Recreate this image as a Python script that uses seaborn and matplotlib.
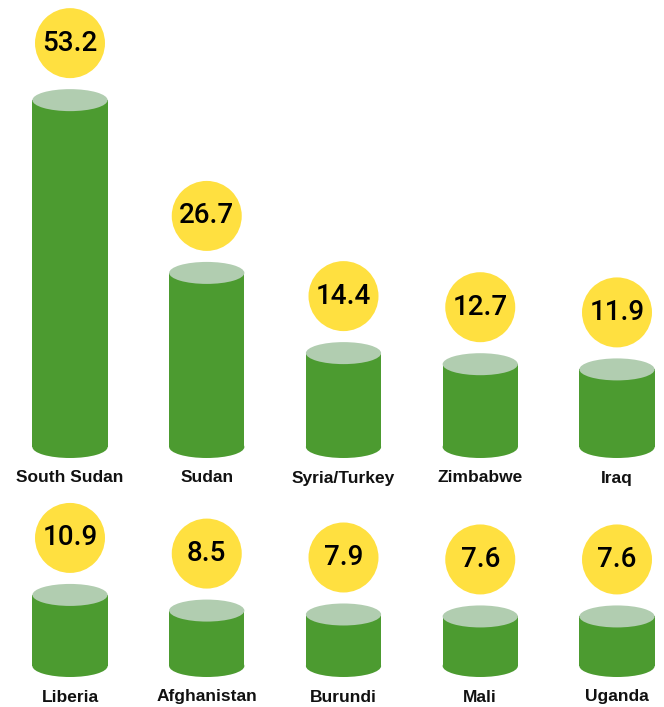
import matplotlib
matplotlib.use("Agg")
import matplotlib.pyplot as plt
from matplotlib.patches import Ellipse
import seaborn as sns
import pandas as pd

# Rows of countries and their values
top_countries = ["South Sudan", "Sudan", "Syria/Turkey", "Zimbabwe", "Iraq"]
top_values = [53.2, 26.7, 14.4, 12.7, 11.9]
bottom_countries = ["Liberia", "Afghanistan", "Burundi", "Mali", "Uganda"]
bottom_values = [10.9, 8.5, 7.9, 7.6, 7.6]

GREEN = "#4c9b30"
CAP = "#b1cdb0"
YELLOW = "#ffe040"

sns.set_theme(style="white")
plt.rcParams["font.family"] = ["Liberation Sans", "DejaVu Sans"]

W, H, DPI = 664, 707, 100
PX_PER_UNIT = 6.52          # vertical pixels per data unit
PX_PER_SLOT = 136.75        # horizontal pixels per category
BAR_W = 0.55
ELL_H = 22 / PX_PER_UNIT    # ellipse height in data units
BADGE_OFF = 57 / PX_PER_UNIT
LABEL_OFF = 31 / PX_PER_UNIT

fig = plt.figure(figsize=(W / DPI, H / DPI), dpi=DPI)


def draw_row(countries, values, top_px, bottom_px, zero_px):
    height_px = bottom_px - top_px
    ax = fig.add_axes([0, 1 - bottom_px / H, 1, height_px / H])
    df = pd.DataFrame({"country": countries, "value": values})
    sns.barplot(data=df, x="country", y="value", color=GREEN, saturation=1,
                width=BAR_W, ax=ax, errorbar=None, linewidth=0)
    for i, v in enumerate(values):
        ax.add_patch(Ellipse((i, 0), BAR_W, ELL_H, facecolor=GREEN,
                             edgecolor="none", zorder=2))
        ax.add_patch(Ellipse((i, v), BAR_W, ELL_H, facecolor=CAP,
                             edgecolor="none", zorder=4))
        ax.scatter([i], [v + BADGE_OFF], s=(70 * 72 / DPI) ** 2, color=YELLOW,
                   edgecolors="none", zorder=5)
        ax.text(i, v + BADGE_OFF, f"{v:.1f}", ha="center", va="center",
                fontsize=20, fontweight="medium", color="black", zorder=6,
                family=["Roboto", "DejaVu Sans"])
        ax.text(i, -LABEL_OFF, countries[i], ha="center", va="center",
                fontsize=12.5, fontweight="bold", color="#111111", zorder=6)
    below = (bottom_px - zero_px) / PX_PER_UNIT
    above = (zero_px - top_px) / PX_PER_UNIT
    ax.set_ylim(-below, above)
    ax.set_xlim(-70 / PX_PER_SLOT, 4 + (W - 617) / PX_PER_SLOT)
    ax.set_axis_off()
    return ax


draw_row(top_countries, top_values, 0, 490, 447)
draw_row(bottom_countries, bottom_values, 490, 707, 666)

fig.savefig("out.png", dpi=DPI, facecolor="white")
